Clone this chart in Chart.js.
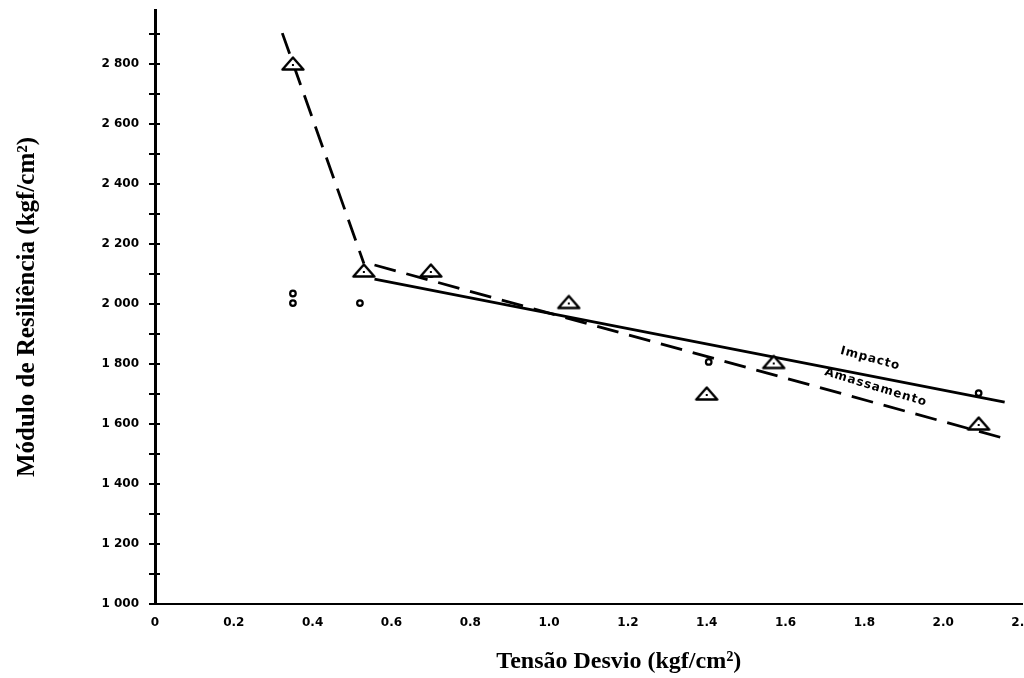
<!DOCTYPE html>
<html><head><meta charset="utf-8">
<script src="https://cdn.jsdelivr.net/npm/chart.js@4.4.0/dist/chart.umd.min.js"></script>
<style>
html,body{margin:0;padding:0;background:#fff;overflow:hidden;width:1024px;height:678px}
#wrap{width:1032px;height:678px;position:relative}
</style>
</head><body><div id="wrap"><canvas id="c"></canvas></div>
<script>
// ---- data ----
const amassamentoX = [0.35, 0.53, 0.70, 1.05, 1.40, 1.57, 2.09];
const amassamentoY = [2800, 2110, 2110, 2005, 1700, 1805, 1600];
const impactoX = [0.35, 0.35, 0.52, 0.70, 1.05, 1.405, 1.57, 2.09];
const impactoY = [2035, 2003, 2003, 2100, 2000, 1807, 1810, 1703];
// fitted lines (Amassamento has a break between points 2 and 3)
const amassamentoFitX = [0.323, 0.530, 0.557, 2.169];
const amassamentoFitY = [2903, 2135, 2130, 1547];
const impactoFitX = [0.557, 2.156];
const impactoFitY = [2083, 1673];
// line labels
const lineLabels = ['Impacto', 'Amassamento'];
const lineLabelX = [1.815, 1.829];
const lineLabelY = [1818, 1722];
const lineLabelAngle = [15, 17];
// axes
const xTitle = 'Tensão Desvio (kgf/cm²)';
const yTitle = 'Módulo de Resiliência (kgf/cm²)';

const pts = (xs, ys) => xs.map((x, i) => ({x: x, y: ys[i]}));

function triangleMarker() {
  const c = document.createElement('canvas');
  c.width = 26; c.height = 18;
  const g = c.getContext('2d');
  g.lineWidth = 2.4; g.strokeStyle = '#000'; g.fillStyle = '#fff'; g.lineJoin = 'round';
  g.beginPath(); g.moveTo(13, 2.5); g.lineTo(23.5, 14.5); g.lineTo(2.5, 14.5); g.closePath();
  g.fill(); g.stroke();
  g.fillStyle = '#000'; g.fillRect(12, 9, 2, 2);
  return c;
}

const yLabel = v => { const s = String(v); return s[0] + ' ' + s.slice(1); };

const extras = {
  id: 'extras',
  afterDraw(chart) {
    const ctx = chart.ctx, ys = chart.scales.y, xs = chart.scales.x, ca = chart.chartArea;
    ctx.save();
    // inner halves of y ticks (tick marks cross the axis)
    ctx.strokeStyle = '#000'; ctx.lineWidth = 2;
    ys.ticks.forEach(t => {
      const py = ys.getPixelForValue(t.value);
      ctx.beginPath(); ctx.moveTo(ca.left, py); ctx.lineTo(ca.left + 5, py); ctx.stroke();
    });
    // line labels
    ctx.fillStyle = '#000';
    ctx.font = 'bold 12px "DejaVu Sans"';
    ctx.textAlign = 'center'; ctx.textBaseline = 'middle';
    try { ctx.letterSpacing = '1px'; } catch (e) {}
    lineLabels.forEach((txt, i) => {
      const px = xs.getPixelForValue(lineLabelX[i]);
      const py = ys.getPixelForValue(lineLabelY[i]);
      ctx.save(); ctx.translate(px, py); ctx.rotate(lineLabelAngle[i] * Math.PI / 180);
      ctx.fillText(txt, 0, 0); ctx.restore();
    });
    try { ctx.letterSpacing = '0px'; } catch (e) {}
    // x axis title
    ctx.font = 'bold 24px "Liberation Serif"';
    ctx.fillText(xTitle, xs.getPixelForValue(1.177), 662);
    ctx.restore();
  }
};

new Chart(document.getElementById('c'), {
  type: 'scatter',
  data: {
    datasets: [
      { label: 'Amassamento', data: pts(amassamentoX, amassamentoY), pointStyle: triangleMarker(),
        pointRadius: 9, borderColor: '#000', backgroundColor: '#fff', order: 0 },
      { label: 'Impacto', data: pts(impactoX, impactoY), pointStyle: 'circle', pointRadius: 2.8,
        borderWidth: 2.2, borderColor: '#000', backgroundColor: '#fff', order: 1 },
      { label: 'Amassamento (ajuste)', data: pts(amassamentoFitX, amassamentoFitY), showLine: true,
        pointRadius: 0, borderColor: '#000', borderWidth: 2.8, borderDash: [22, 11], order: 2,
        segment: { borderColor: c => c.p0DataIndex === 1 ? 'rgba(0,0,0,0)' : '#000' } },
      { label: 'Impacto (ajuste)', data: pts(impactoFitX, impactoFitY), showLine: true,
        pointRadius: 0, borderColor: '#000', borderWidth: 2.8, order: 3 }
    ]
  },
  options: {
    responsive: true, maintainAspectRatio: false, animation: false,
    layout: { padding: { top: 9, right: 5, left: 0, bottom: 0 } },
    plugins: { legend: { display: false }, tooltip: { enabled: false } },
    scales: {
      x: {
        type: 'linear', min: 0, max: 2.2,
        border: { display: true, color: '#000', width: 2 },
        grid: { display: false, drawTicks: false },
        ticks: { stepSize: 0.2, autoSkip: false, maxRotation: 0, padding: 12, color: '#000',
          font: { family: 'DejaVu Sans', weight: 'bold', size: 12 },
          callback: v => v === 0 ? '0' : Number(v).toFixed(1) },
        afterFit: s => { s.height = 74; s.paddingLeft = 0; s.paddingRight = 0; }
      },
      y: {
        type: 'linear', min: 1000, max: 2980,
        border: { display: true, color: '#000', width: 3 },
        grid: { display: true, drawOnChartArea: false, drawTicks: true, tickLength: 6, color: '#000', lineWidth: 2 },
        ticks: { stepSize: 100, includeBounds: false, autoSkip: false, padding: 10, color: '#000',
          font: { family: 'DejaVu Sans', weight: 'bold', size: 12 },
          callback: v => (v % 200 === 0 ? yLabel(v) : '') },
        title: { display: true, text: yTitle, color: '#000', padding: { top: 13, bottom: 0 },
          font: { family: 'Liberation Serif', weight: 'bold', size: 25 } },
        afterFit: s => { s.width = 155; s.paddingTop = 0; s.paddingBottom = 0; }
      }
    }
  },
  plugins: [extras]
});
</script>
</body></html>
